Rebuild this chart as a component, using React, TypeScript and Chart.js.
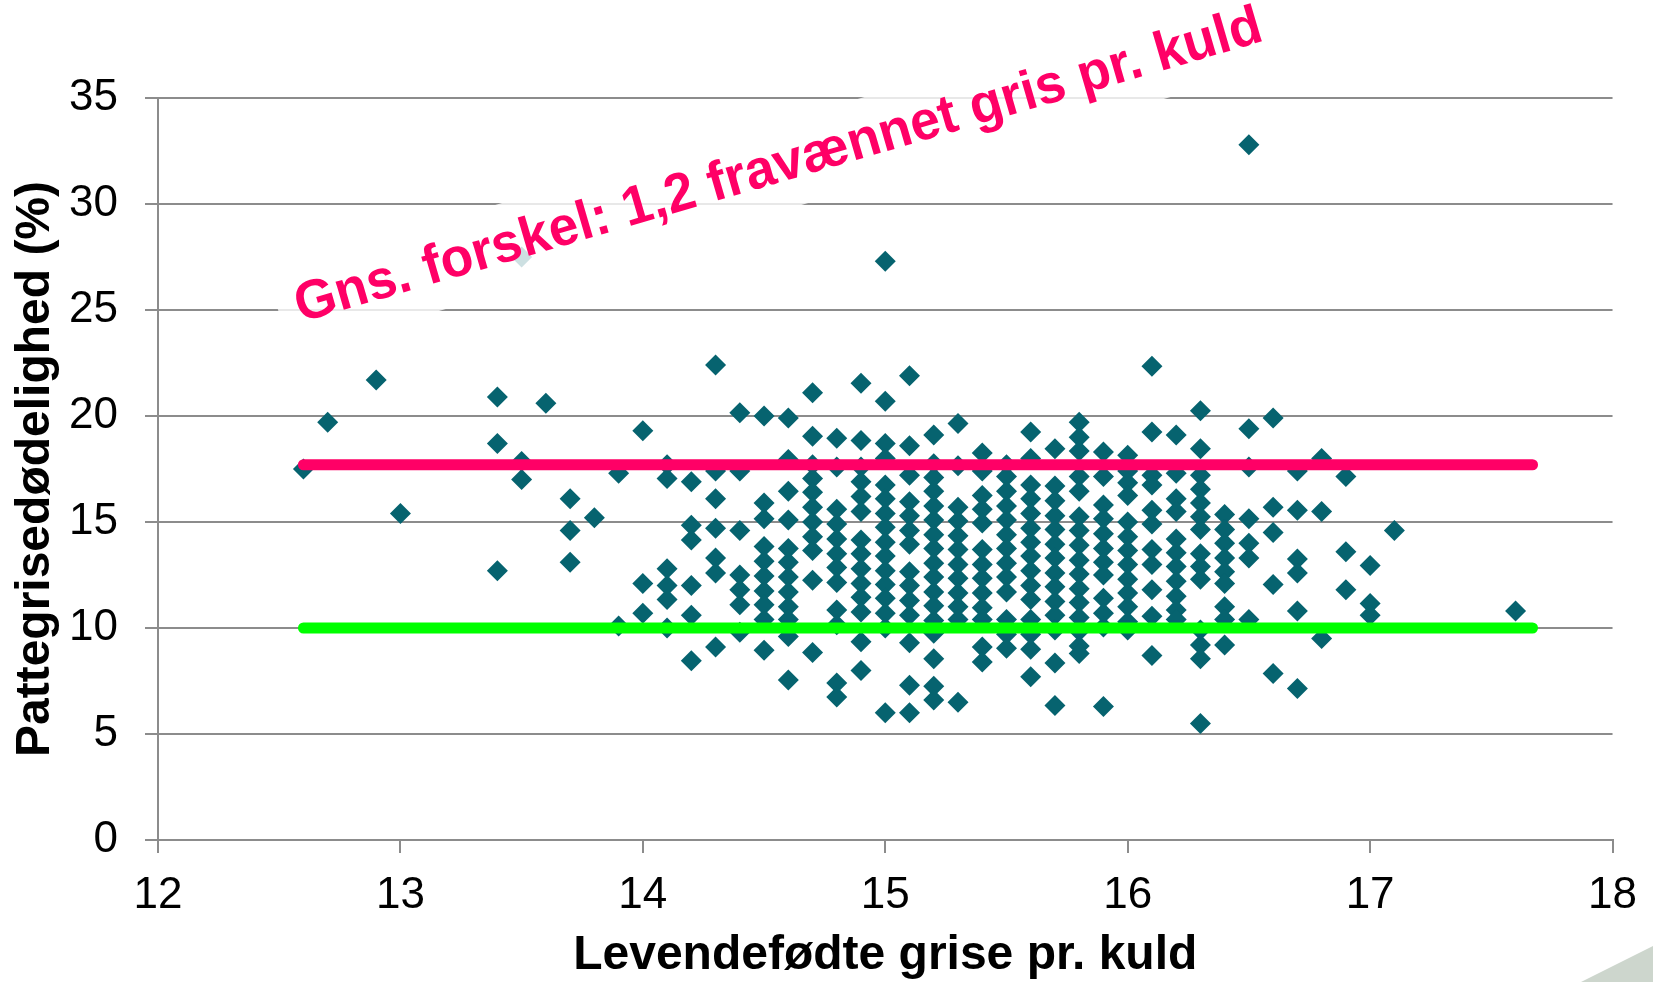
import React, { useEffect, useRef } from "react";
import { Chart, registerables } from "chart.js";

Chart.register(...registerables);

// Levendefødte grise pr. kuld (x-columns)
const litterSizes = [
  12.6, 12.7, 12.9, 13.0, 13.4, 13.5, 13.6, 13.7, 13.8, 13.9,
  14.0, 14.1, 14.2, 14.3, 14.4, 14.5, 14.6, 14.7, 14.8, 14.9,
  15.0, 15.1, 15.2, 15.3, 15.4, 15.5, 15.6, 15.7, 15.8, 15.9,
  16.0, 16.1, 16.2, 16.3, 16.4, 16.5, 16.6, 16.7, 16.8, 16.9,
  17.0, 17.1, 17.6,
];

// Pattegrisedødelighed (%) for each column above
const mortalityByLitter = [
  [17.5],
  [19.7],
  [21.7],
  [15.4],
  [20.9, 18.7, 12.7],
  [27.5, 17.85, 17.0],
  [20.6],
  [16.1, 14.6, 13.1],
  [15.2],
  [17.3, 10.1],
  [19.3, 12.1, 10.7],
  [17.7, 17.05, 12.8, 12.0, 11.35, 10.0],
  [16.9, 14.85, 14.15, 12.0, 10.6, 8.45],
  [22.4, 17.4, 16.1, 14.7, 13.3, 12.6, 9.1],
  [20.15, 17.4, 14.6, 12.5, 11.8, 11.1, 9.8],
  [20.0, 15.9, 15.15, 13.85, 13.15, 12.45, 11.75, 11.1, 10.4, 8.95],
  [19.9, 17.95, 16.45, 15.1, 13.75, 13.1, 12.4, 11.7, 11.0, 10.4, 9.6, 7.55],
  [21.1, 19.05, 17.7, 17.05, 16.4, 15.7, 15.0, 14.3, 13.65, 12.25, 8.85],
  [18.95, 17.6, 15.6, 14.9, 14.2, 13.5, 12.85, 12.15, 10.85, 10.15, 7.4, 6.75],
  [21.55, 18.85, 17.6, 16.9, 16.2, 15.5, 14.15, 13.5, 12.8, 12.1, 11.45, 10.75, 9.35, 8.0],
  [27.3, 20.7, 18.7, 18.0, 16.75, 16.1, 15.4, 14.75, 14.05, 13.4, 12.7, 12.05, 11.4, 10.7, 10.0, 6.0],
  [21.9, 18.6, 17.2, 15.95, 15.3, 14.6, 13.95, 12.65, 12.0, 11.3, 10.6, 9.3, 7.3, 6.0],
  [19.1, 17.75, 17.1, 16.45, 15.75, 15.1, 14.4, 13.75, 13.05, 12.4, 11.7, 11.05, 10.35, 9.75, 8.55, 7.25, 6.6],
  [19.65, 17.65, 15.7, 15.05, 14.35, 13.7, 13.0, 12.35, 11.65, 11.0, 10.4, 6.5],
  [18.25, 17.4, 16.25, 15.6, 14.95, 13.7, 13.0, 12.35, 11.65, 10.95, 10.4, 9.1, 8.4],
  [17.7, 17.15, 16.45, 15.75, 15.1, 14.4, 13.75, 13.05, 12.4, 11.7, 10.4, 9.7, 9.05],
  [19.25, 18.0, 16.75, 16.1, 15.4, 14.7, 14.05, 13.4, 12.7, 12.0, 11.35, 10.4, 9.7, 9.0, 7.7],
  [18.45, 16.7, 16.0, 15.3, 14.65, 13.95, 13.3, 12.6, 11.95, 11.25, 10.6, 9.9, 8.35, 6.35],
  [19.7, 19.0, 18.35, 17.15, 16.45, 15.25, 14.6, 13.9, 13.2, 12.55, 11.85, 11.2, 10.5, 9.85, 9.15, 8.8],
  [18.3, 17.15, 15.8, 15.15, 14.45, 13.75, 13.1, 12.5, 11.4, 10.7, 10.05, 6.3],
  [18.15, 17.4, 16.85, 16.25, 15.0, 14.3, 13.65, 13.0, 12.3, 11.65, 11.0, 10.3, 9.9],
  [22.35, 19.25, 17.2, 16.75, 15.55, 14.9, 13.7, 13.0, 11.8, 10.55, 8.7],
  [19.1, 17.3, 16.1, 15.5, 14.2, 13.55, 12.9, 12.2, 11.5, 10.85, 10.4],
  [20.25, 18.45, 17.2, 16.55, 15.9, 15.25, 14.65, 13.5, 12.9, 12.3, 9.9, 9.2, 8.55, 5.5],
  [15.35, 14.65, 14.0, 13.3, 12.65, 12.1, 11.0, 10.4, 9.2],
  [32.8, 19.4, 17.6, 15.15, 14.0, 13.3, 10.4],
  [19.9, 15.7, 14.5, 12.05, 7.85],
  [17.4, 15.55, 13.25, 12.6, 10.8, 7.15],
  [18.0, 15.5, 9.5],
  [17.15, 13.6, 11.8],
  [12.95, 11.15, 10.6],
  [14.6],
  [10.8],
];

// Reference lines (mean levels)
const lineRange = [12.6, 17.67];
const topLevel = 17.7;
const bottomLevel = 10.0;

const xTicks = { min: 12, max: 18, step: 1 };
const yTicks = { min: 0, max: 35, step: 5 };

const annotationText = "Gns. forskel: 1,2 fravænnet gris pr. kuld";
const annotationAnchor = { x: 14.56, y: 31.75 };

const xTitle = "Levendefødte grise pr. kuld";
const yTitle = "Pattegrisedødelighed (%)";

const FONT = '"Liberation Sans", Arial, Helvetica, sans-serif';
const GRID = "#8c8c8c";

export default function App() {
  const ref = useRef<HTMLCanvasElement | null>(null);

  useEffect(() => {
    document.body.style.margin = "0";
    const canvas = ref.current;
    if (!canvas) return;

    const points = litterSizes.flatMap((x, i) =>
      mortalityByLitter[i].map((y) => ({ x, y }))
    );
    const pinkLine = lineRange.map((x) => ({ x, y: topLevel }));
    const greenLine = lineRange.map((x) => ({ x, y: bottomLevel }));

    const annotationPlugin = {
      id: "annot",
      afterDatasetsDraw(chart: any) {
        const { ctx, scales } = chart;
        const cx = scales.x.getPixelForValue(annotationAnchor.x);
        const cy = scales.y.getPixelForValue(annotationAnchor.y);
        ctx.save();
        ctx.font = `bold 55px ${FONT}`;
        const w = ctx.measureText(annotationText).width * 0.97;
        ctx.translate(cx, cy);
        ctx.rotate((-16.3 * Math.PI) / 180);
        ctx.fillStyle = "rgba(255,255,255,0.8)";
        ctx.fillRect(-w / 2 - 18, -43, w + 36, 86);
        ctx.scale(0.97, 1);
        ctx.fillStyle = "#FF0066";
        ctx.textAlign = "center";
        ctx.textBaseline = "middle";
        ctx.fillText(annotationText, 0, 0);
        ctx.restore();
      },
      afterDraw(chart: any) {
        const { ctx, width, height } = chart;
        ctx.save();
        ctx.fillStyle = "#cdd6cd";
        ctx.beginPath();
        ctx.moveTo(width - 72, height);
        ctx.lineTo(width, height - 36);
        ctx.lineTo(width, height);
        ctx.closePath();
        ctx.fill();
        ctx.restore();
      },
    };

    const chart = new Chart(canvas, {
      type: "scatter",
      data: {
        datasets: [
          {
            label: "Besætninger",
            data: points,
            pointStyle: "rectRot",
            pointRadius: 10.5,
            pointHoverRadius: 10.5,
            backgroundColor: "#06636F",
            borderColor: "#06636F",
            borderWidth: 0,
            order: 3,
          } as any,
          {
            type: "line",
            label: "Top",
            data: pinkLine,
            borderColor: "#FF0066",
            backgroundColor: "#FF0066",
            borderWidth: 11,
            borderCapStyle: "round",
            pointRadius: 0,
            order: 1,
          } as any,
          {
            type: "line",
            label: "Bund",
            data: greenLine,
            borderColor: "#00FF00",
            backgroundColor: "#00FF00",
            borderWidth: 11,
            borderCapStyle: "round",
            pointRadius: 0,
            order: 2,
          } as any,
        ],
      },
      options: {
        animation: false,
        responsive: false,
        layout: { padding: { top: 98, right: 39, left: 0, bottom: 0 } },
        plugins: {
          legend: { display: false },
          tooltip: { enabled: false },
        },
        scales: {
          x: {
            type: "linear",
            min: xTicks.min,
            max: xTicks.max,
            ticks: {
              stepSize: xTicks.step,
              color: "#000",
              font: { family: FONT, size: 44, lineHeight: 1.2 },
              padding: 16,
            },
            grid: {
              drawOnChartArea: false,
              drawTicks: true,
              tickLength: 13,
              color: GRID,
              lineWidth: 2,
            },
            border: { color: GRID, width: 2 },
            title: {
              display: true,
              text: xTitle,
              color: "#000",
              font: { family: FONT, size: 48, weight: "bold", lineHeight: 1 },
              padding: { top: 0, bottom: 2 },
            },
            afterFit: (s: any) => {
              s.height = 142;
            },
          } as any,
          y: {
            min: yTicks.min,
            max: yTicks.max,
            ticks: {
              stepSize: yTicks.step,
              color: "#000",
              font: { family: FONT, size: 44, lineHeight: 1.2 },
              padding: 27,
            },
            grid: {
              tickLength: 13,
              color: GRID,
              lineWidth: 2,
            },
            border: { color: GRID, width: 2 },
            title: {
              display: true,
              text: yTitle,
              color: "#000",
              font: { family: FONT, size: 48, weight: "bold", lineHeight: 1 },
              padding: { top: 12, bottom: 0 },
            },
            afterFit: (s: any) => {
              s.width = 158;
            },
          } as any,
        },
      },
      plugins: [annotationPlugin],
    });

    return () => chart.destroy();
  }, []);

  return (
    <div style={{ width: 1653, height: 982, background: "#fff" }}>
      <canvas ref={ref} width={1653} height={982} style={{ display: "block" }} />
    </div>
  );
}
